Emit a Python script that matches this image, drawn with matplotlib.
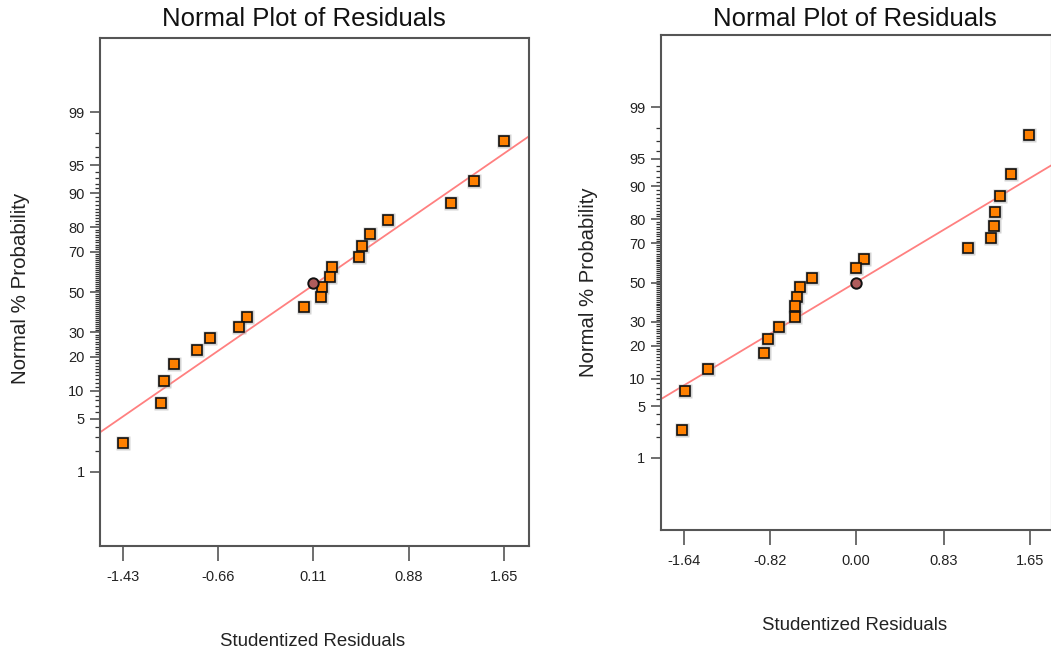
import numpy as np
import matplotlib
matplotlib.use('Agg')
import matplotlib.pyplot as plt
from statistics import NormalDist

plt.rcParams['font.family'] = ['Liberation Sans', 'DejaVu Sans']

# left panel
left_resid = [1.65, 1.41, 1.22, 0.71, 0.57, 0.50, 0.48, 0.26, 0.24, 0.18,
              0.17, 0.03, -0.43, -0.49, -0.73, -0.83, -1.02, -1.10, -1.12, -1.43]
left_prob = [97.5, 92.5, 87.5, 82.5, 77.5, 72.5, 67.5, 62.5, 57.5, 52.5,
             47.5, 42.5, 37.5, 32.5, 27.5, 22.5, 17.5, 12.5, 7.5, 2.5]
left_center = (0.11, 54.6)
left_fit_x = [-1.62, 1.85]
left_fit_p = [3.42, 97.8]
left_xticks = [-1.43, -0.66, 0.11, 0.88, 1.65]
left_xlim = (-1.616, 1.853)

# right panel
right_resid = [1.64, 1.47, 1.37, 1.32, 1.31, 1.28, 1.06, 0.07, 0.00, -0.42,
               -0.53, -0.56, -0.58, -0.58, -0.73, -0.84, -0.88, -1.41, -1.63, -1.65]
right_prob = [97.5, 92.5, 87.5, 82.5, 77.5, 72.5, 67.5, 62.5, 57.5, 52.5,
              47.5, 42.5, 37.5, 32.5, 27.5, 22.5, 17.5, 12.5, 7.5, 2.5]
right_center = (0.00, 50.0)
right_fit_x = [-1.86, 1.86]
right_fit_p = [6.0, 94.1]
right_xticks = [-1.64, -0.82, 0.00, 0.83, 1.65]
right_xlim = (-1.857, 1.857)

prob_major = [1, 5, 10, 20, 30, 50, 70, 80, 90, 95, 99]
prob_minor = [p for p in range(2, 99) if p not in prob_major]

nd = NormalDist()


def to_z(p):
    return np.array([nd.inv_cdf(v / 100.0) for v in np.atleast_1d(p)])


def draw_panel(ax, resid, prob, center, fit_x, fit_p, xticks, xlim):
    ax.plot(fit_x, to_z(fit_p), color='#ff8080', lw=1.3, zorder=2)
    # faint grey halo behind the squares
    ax.plot(resid, to_z(prob), 's', color='#aaaaaa', alpha=0.5, mec='none',
            ms=10, ls='none', zorder=3)
    ax.plot(resid, to_z(prob), 's', color='#ff8000', mec='#111111', mew=1.2,
            ms=7.5, ls='none', zorder=4)
    ax.plot([center[0]], to_z([center[1]]), 'o', color='#b05c5c', mec='#111111',
            mew=1.4, ms=7.5, zorder=5)
    ax.set_xlim(*xlim)
    ax.set_ylim(-3.29, 3.29)
    ax.set_xticks(xticks)
    ax.set_xticklabels(['%.2f' % t for t in xticks])
    ax.set_yticks(to_z(prob_major))
    ax.set_yticklabels([str(p) for p in prob_major])
    ax.set_yticks(to_z(prob_minor), minor=True)
    ax.tick_params(axis='x', length=11, width=1.2, pad=6, labelsize=10.5,
                   colors='#555555', labelcolor='#222222')
    ax.tick_params(axis='y', which='major', length=7, width=1.2, pad=4,
                   labelsize=10.5, colors='#555555', labelcolor='#222222')
    ax.tick_params(axis='y', which='minor', length=3.5, width=0.9, colors='#333333')
    for s in ax.spines.values():
        s.set_color('#555555')
        s.set_linewidth(1.5)


fig = plt.figure(figsize=(10.51, 6.58), dpi=100)
ax1 = fig.add_axes([100 / 1051, 112 / 658, 429 / 1051, 508 / 658])
ax2 = fig.add_axes([660.7 / 1051, 128 / 658, 391 / 1051, 495 / 658])

draw_panel(ax1, left_resid, left_prob, left_center, left_fit_x, left_fit_p,
           left_xticks, left_xlim)
draw_panel(ax2, right_resid, right_prob, right_center, right_fit_x, right_fit_p,
           right_xticks, right_xlim)

fig.text(304 / 1051, 1 - 19 / 658, 'Normal Plot of Residuals', ha='center',
         va='center', fontsize=18.5, color='#111111')
fig.text(855 / 1051, 1 - 19 / 658, 'Normal Plot of Residuals', ha='center',
         va='center', fontsize=18.5, color='#111111')
fig.text(21 / 1051, 1 - 288 / 658, 'Normal % Probability', rotation=90,
         ha='center', va='center', fontsize=14.8, color='#222222')
fig.text(589 / 1051, 1 - 282 / 658, 'Normal % Probability', rotation=90,
         ha='center', va='center', fontsize=14.6, color='#222222')
fig.text(313 / 1051, 1 - 641 / 658, 'Studentized Residuals', ha='center',
         va='center', fontsize=13.4, color='#222222')
fig.text(855 / 1051, 1 - 625 / 658, 'Studentized Residuals', ha='center',
         va='center', fontsize=13.4, color='#222222')

fig.savefig('out.png', dpi=100)
